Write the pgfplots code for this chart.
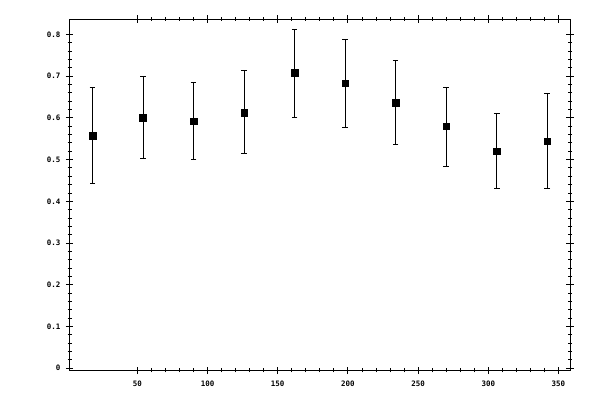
\documentclass[border=0pt]{standalone}
\usepackage{fontspec}
\setmonofont{DejaVu Sans Mono}
\usepackage{pgfplots}
\pgfplotsset{compat=1.18}

\begin{document}
\begin{tikzpicture}
\begin{axis}[
  at={(0,0)}, anchor=south west,
  scale only axis,
  width=500.3bp, height=351.3bp,
  xmin=1.8, xmax=358.2,
  ymin=-0.005, ymax=0.837,
  xtick={50,100,...,350},
  ytick={0,0.1,...,0.8},
  minor x tick num=4,
  minor y tick num=4,
  tick align=center,
  major tick length=7.5bp,
  minor tick length=4bp,
  xtick pos=both, ytick pos=both,
  xticklabel pos=lower, yticklabel pos=left,
  axis line style={line width=1bp},
  every tick/.style={black, line width=0.9bp},
  tick label style={font=\ttfamily\bfseries\fontsize{7.5}{8}\selectfont},
  /pgf/number format/assume math mode=true,
  yticklabel style={/pgf/number format/fixed, /pgf/number format/precision=1, xshift=-2bp},
  xticklabel style={yshift=-3bp},
]
\addplot[
  black, only marks, mark=square*, mark size=3.3bp,
  error bars/.cd, y dir=both, y explicit,
  error mark=-, error mark options={mark size=2.8bp, line width=0.9bp, rotate=90},
  error bar style={line width=0.9bp},
] table[x=x, y=y, y error plus=ep, y error minus=em] {
x   y     ep     em
18  0.558 0.115 0.115
54  0.601 0.098 0.098
90  0.592 0.094 0.091
126 0.613 0.101 0.098
162 0.709 0.104 0.108
198 0.683 0.104 0.106
234 0.637 0.101 0.100
270 0.580 0.093 0.096
306 0.520 0.090 0.089
342 0.544 0.115 0.113
};
\end{axis}
\pgfresetboundingbox
\useasboundingbox (-69.7bp,-29.7bp) rectangle (530.3bp,370.3bp);
\end{tikzpicture}
\end{document}
